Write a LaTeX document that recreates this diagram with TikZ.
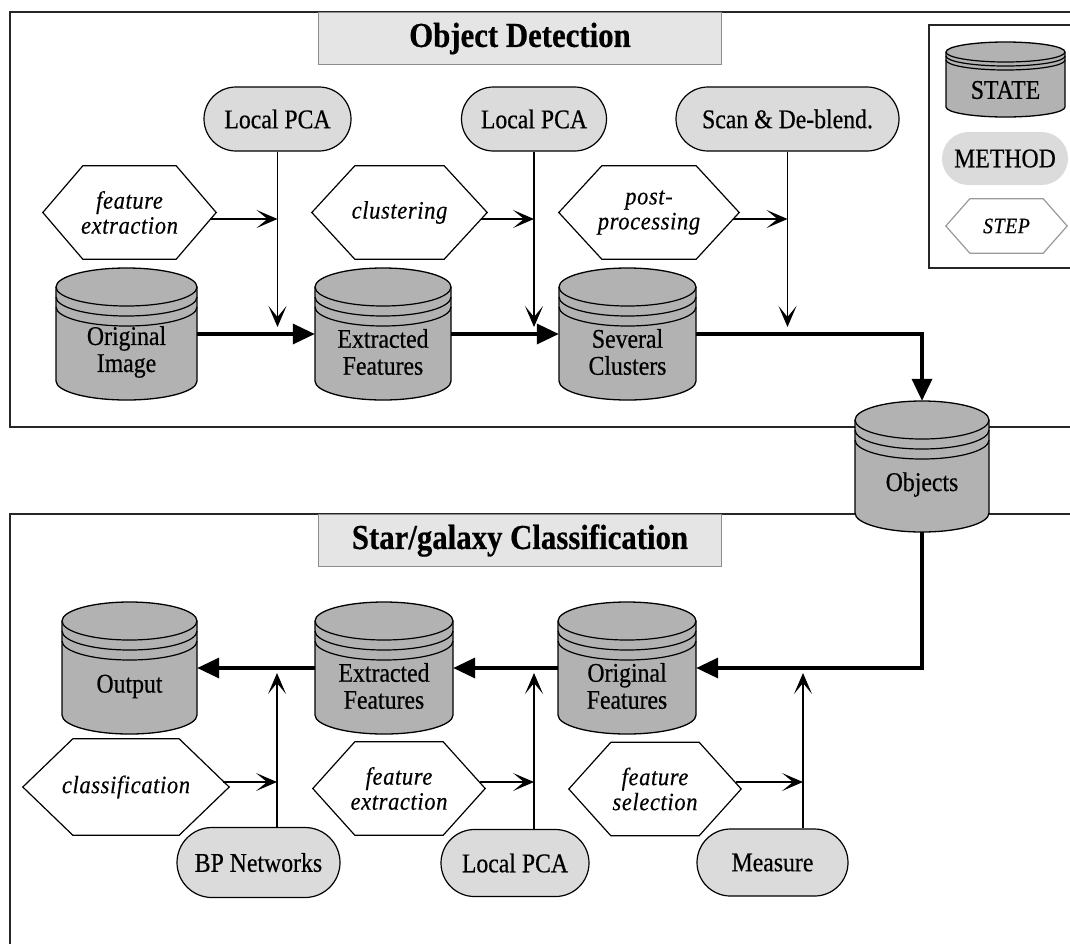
\documentclass[tikz,border=0pt]{standalone}
\usepackage{fontspec}
\setmainfont[FakeStretch=0.88,FakeBold=0.5]{Liberation Serif}
\newfontfamily\stepfamily[FakeStretch=0.9,LetterSpace=2.5,FakeBold=0.4]{Liberation Serif}
\usetikzlibrary{arrows.meta,calc,shapes.misc}

\definecolor{drumgray}{gray}{0.70}
\definecolor{methodgray}{gray}{0.86}
\definecolor{titlegray}{gray}{0.90}

\newcommand{\bodyfont}{\fontsize{27}{27}\selectfont}
\newcommand{\stepfont}{\stepfamily\itshape\fontsize{25}{25}\selectfont}

\tikzset{
  panel/.style={draw=black!85, line width=1.4pt},
  titlebox/.style={draw=black!45, fill=titlegray, line width=1pt, minimum width=403,
    minimum height=52, inner sep=0, font=\fontsize{35}{36}\selectfont\bfseries},
  method/.style={rounded rectangle, draw=black, line width=1.2pt, fill=methodgray,
    inner sep=0, font=\bodyfont},
  stepnode/.style={inner sep=0, minimum height=93, align=center, font=\stepfont},
  drumbody/.style={draw=black, line width=1.3pt, fill=drumgray},
  drumline/.style={draw=black, line width=1.2pt},
  drumlabel/.style={align=center, font=\bodyfont, inner sep=0},
  flow/.style={line width=3.5pt, -{Triangle[length=22pt,width=20pt]}},
  feed/.style={line width=1.3pt, -{Stealth[length=21pt,width=18pt,inset=11pt]}},
}

% storage drum: name, cx, cy, half width, half height, cap radius, band gap, label offset, label
\newcommand{\drum}[9]{%
  \begin{scope}[shift={(#2,#3)}]
    \path[drumbody] (-#4,-#5+#6) -- (-#4,#5-#6) arc (180:0:#4 and #6)
      -- (#4,-#5+#6) arc (0:-180:#4 and #6) -- cycle;
    \draw[drumline] (-#4,-#5+#6) arc (180:0:#4 and #6);
    \draw[drumline] (-#4,-#5+#6+#7) arc (180:0:#4 and #6);
    \draw[drumline] (-#4,-#5+#6+2*#7) arc (180:0:#4 and #6);
  \end{scope}
  \node[inner sep=0, minimum width=2*#4, minimum height=2*#5] (#1) at (#2,#3) {};
  \node[drumlabel] (#1-label) at (#2,#3+#8) {#9};
}

% hexagonal outline round a step node: [colour] name, corner inset
\newcommand{\hexframe}[3][black]{%
  \draw[draw=#1, line width=1.2pt, line join=miter]
    (#2.west) -- ($(#2.north west)+(#3,0)$) -- ($(#2.north east)+(-#3,0)$)
    -- (#2.east) -- ($(#2.south east)+(-#3,0)$) -- ($(#2.south west)+(#3,0)$) -- cycle;}

\begin{document}
\begin{tikzpicture}[x=1pt,y=-1pt]
\useasboundingbox (0,0) rectangle (1070,943);
\clip (0,0) rectangle (1070,943);

% ---------- panels ----------
\draw[panel] (10,12) rectangle (1100,427);
\draw[panel] (10,514) rectangle (1100,980);
\node[titlebox, anchor=north west] (title1) at (318,12) {Object Detection};
\node[titlebox, anchor=north west] (title2) at (318,514) {Star/galaxy Classification};

% ---------- legend ----------
\draw[panel] (929,25) rectangle (1100,268);
\drum{legstate}{1005.5}{79.5}{59.5}{37.5}{10}{4}{10.5}{STATE}
\node[method, draw=none, minimum width=126, minimum height=53] (legmethod) at (1005,158.5) {METHOD};
\node[stepnode, minimum width=121, minimum height=54,
  font=\stepfamily\itshape\fontsize{22}{22}\selectfont] (legstep) at (1006.5,226) {STEP};
\hexframe[black!40]{legstep}{24}

% ---------- object detection ----------
\node[method, minimum width=147, minimum height=64] (m1) at (277.5,119) {Local PCA};
\node[method, minimum width=145, minimum height=64] (m2) at (534,119) {Local PCA};
\node[method, minimum width=223, minimum height=64] (m3) at (787.5,119) {Scan \& De-blend.};

\node[stepnode, minimum width=173] (h1) at (129.5,212.5) {feature\\extraction};
\hexframe{h1}{40}
\node[stepnode, minimum width=175] (h2) at (399.5,212.5) {clustering};
\hexframe{h2}{43}
\node[stepnode, minimum width=180] (h3) at (649,212.5) {post-\\processing};
\hexframe{h3}{43}

\drum{c1}{126.5}{334}{70.5}{66}{19}{10}{18}{Original\\Image}
\drum{c2}{383}{334}{68}{66}{19}{10}{18}{Extracted\\Features}
\drum{c3}{627.5}{334}{68.5}{66}{19}{10}{18}{Several\\Clusters}
\drum{obj}{922}{466.5}{67}{65.5}{19}{10}{18}{Objects}

\coordinate (d1) at (277.5,327);
\coordinate (d2) at (534,327);
\coordinate (d3) at (787.5,327);
\coordinate (e1) at (277.5,219);
\coordinate (e2) at (534,219);
\coordinate (e3) at (787.5,219);
\draw[feed] (m1) -- (d1);
\draw[feed] (m2) -- (d2);
\draw[feed] (m3) -- (d3);
\draw[feed] ($(h1.east)+(-6,6.5)$) -- (e1);
\draw[feed] ($(h2.east)+(-6,6.5)$) -- (e2);
\draw[feed] ($(h3.east)+(-6,6.5)$) -- (e3);

\draw[flow] (c1) -- (c2);
\draw[flow] (c2) -- (c3);
\draw[flow] (c3.east) -| (obj.north);

% ---------- star/galaxy classification ----------
\drum{out}{129.5}{668}{67.5}{66}{19}{10}{18.5}{Output}
\drum{ef}{384}{668}{69}{66}{19}{10}{18}{Extracted\\Features}
\drum{of}{627}{668}{69}{66}{19}{10}{18}{Original\\Features}

\node[stepnode, minimum width=206, minimum height=96] (s1) at (126,787) {classification};
\hexframe{s1}{50}
\node[stepnode, minimum width=172] (s2) at (399,788.5) {feature\\extraction};
\hexframe{s2}{42}
\node[stepnode, minimum width=172] (s3) at (655,789) {feature\\selection};
\hexframe{s3}{42}

\node[method, minimum width=163, minimum height=70] (b1) at (258.5,862.5) {BP Networks};
\node[method, minimum width=148, minimum height=67] (b2) at (515,863) {Local PCA};
\node[method, minimum width=151, minimum height=67] (b3) at (772.5,862.5) {Measure};

\coordinate (u1) at (277,673);
\coordinate (u2) at (534,673);
\coordinate (u3) at (803,673);
\coordinate (v1) at (277,782);
\coordinate (v2) at (534,782);
\coordinate (v3) at (803,782);
\draw[feed] (b1.north -| u1) -- (u1);
\draw[feed] (b2.north -| u2) -- (u2);
\draw[feed] (b3.north -| u3) -- (u3);
\draw[feed] ($(s1.east)+(-6,-5)$) -- (v1);
\draw[feed] ($(s2.east)+(-5,-6.5)$) -- (v2);
\draw[feed] ($(s3.east)+(-5,-7)$) -- (v3);

\draw[flow] (obj.south) |- (of.east);
\draw[flow] (of) -- (ef);
\draw[flow] (ef) -- (out);
\end{tikzpicture}
\end{document}
